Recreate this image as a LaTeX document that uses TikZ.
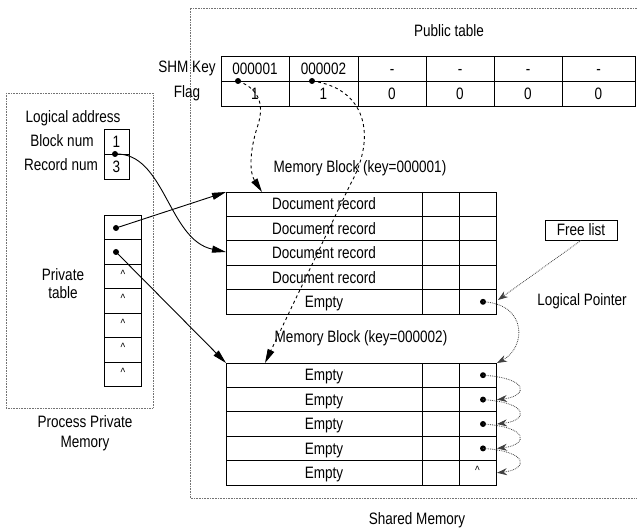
\documentclass[tikz,border=0pt]{standalone}
\usepackage{fontspec}
\setmainfont{Liberation Sans}[FakeStretch=0.82]
\usetikzlibrary{arrows.meta}
\begin{document}
\begin{tikzpicture}[x=1pt,y=-1pt,
  lbl/.style={font=\fontsize{16.5}{18}\selectfont, inner sep=0pt, text height=11.8pt, text depth=0pt},
  sm/.style={font=\fontsize{12}{14}\selectfont, inner sep=0pt},
  box/.style={draw, line width=0.9pt, inner sep=0pt, anchor=north west},
  pt/.style={circle, fill, inner sep=0pt, minimum size=6pt},
  border/.style={densely dotted, line width=0.6pt, black!55},
  sol/.style={line width=0.9pt, -{Triangle[length=14pt,width=7pt]}},
  dsh/.style={dashed, line width=0.9pt, -{Triangle[length=14pt,width=7pt]}},
  dta/.style={densely dotted, line width=0.8pt, black!75, -{Stealth[length=10pt,width=7pt]}},
  cell/.style={line width=0.9pt},
]
\useasboundingbox (0,0) rectangle (637,529);

% regions
\draw[border] (640,8) -- (190,8) -- (190,498) -- (640,498);
\draw[border] (6,93) rectangle (153,408);
\node[lbl] (shm) at (417,518.5) {Shared Memory};
\node[lbl] (ppm1) at (85,422) {Process Private};
\node[lbl] (ppm2) at (85,442) {Memory};

% public table
\node[lbl] (pubt) at (449,31) {Public table};
\node[lbl] (shmk) at (187,67) {SHM Key};
\node[lbl] (flag) at (187,92) {Flag};
\foreach \xa/\xb/\ta/\tb [count=\i] in {221/289/000001/1, 289/358/000002/1, 358/426/-/0, 426/494/-/0, 494/562/-/0, 562/635/-/0} {
  \draw[cell] (\xa,56) rectangle (\xb,81);
  \draw[cell] (\xa,81) rectangle (\xb,106);
  \node[lbl] (k\i) at ({(\xa+\xb)/2},68.5) {\ta};
  \node[lbl] (f\i) at ({(\xa+\xb)/2},93.5) {\tb};
}
\node[pt] (kd1) at (238,81) {};
\node[pt] (kd2) at (312,81) {};

% memory block 1
\node[lbl] (mb1) at (360,167) {Memory Block (key=000001)};
\node[box, minimum width=270pt, minimum height=122pt] (blkA) at (226,192) {};
\foreach \y [count=\i] in {192,216.4,240.8,265.2,289.6} {
  \draw[cell] (226,\y) -- (496,\y);
}
\draw[cell] (422,192) -- (422,314);
\draw[cell] (459,192) -- (459,314);
\foreach \y [count=\i] in {204,228.4,252.8,277.2} {
  \node[lbl] (dr\i) at (324,\y) {Document record};
}
\node[lbl] (em0) at (324,301.6) {Empty};
\node[pt] (e1) at (483,301.8) {};

% memory block 2
\node[lbl] (mb2) at (361,337) {Memory Block (key=000002)};
\node[box, minimum width=270pt, minimum height=122pt] (blkB) at (226,363) {};
\foreach \y in {363,387.4,411.8,436.2,460.6} {
  \draw[cell] (226,\y) -- (496,\y);
}
\draw[cell] (422,363) -- (422,485);
\draw[cell] (459,363) -- (459,485);
\foreach \y [count=\i] in {375,399.4,423.8,448.2,472.6} {
  \node[lbl] (eb\i) at (324,\y) {Empty};
}
\foreach \y [count=\i] in {375.2,399.6,424,448.4} {
  \node[pt] (q\i) at (483,\y) {};
}
\node[sm] (qn) at (477.5,470) {\textasciicircum};

% free list
\node[draw, line width=0.9pt, lbl, minimum width=72pt, minimum height=20pt, inner sep=0pt] (fl) at (581,230) {Free list};
\node[lbl] (lp) at (582,300) {Logical Pointer};

% logical address
\node[lbl] (la) at (73,117) {Logical address};
\node[lbl] (bn) at (62,141) {Block num};
\node[lbl] (rn) at (61,165) {Record num};
\draw[cell] (104,129) rectangle (129,154);
\draw[cell] (104,154) rectangle (129,179);
\node[lbl] (v1) at (116.5,141.5) {1};
\node[lbl] (v3) at (116.5,166.5) {3};
\node[pt] (ld) at (115,154) {};

% private table
\node[lbl] (pt1) at (63,275) {Private};
\node[lbl] (pt2) at (63,293) {table};
\foreach \y in {215,239.5,264,288.5,313,337.5,362} {
  \draw[cell] (104,\y) rectangle (141,\y+24.5);
}
\foreach \y in {274,298.5,323,347.5,372} {
  \node[sm] at (123,\y) {\textasciicircum};
}
\node[pt] (pd1) at (116,228) {};
\node[pt] (pd2) at (116,252) {};

% coordinates
\coordinate (a1) at (262,192);
\coordinate (a2) at (265,363);
\coordinate (r3) at (226,252);
\coordinate (fpt) at (498,300);

% connectors
\draw[dsh] (kd1.center) .. controls (262,90) and (264,108) .. (257,128) .. controls (250,150) and (249,172) .. (a1);
\draw[dsh] (kd2.center) .. controls (365,88) and (378,135) .. (350,185) -- (a2);
\draw[sol] (ld.center) .. controls (165,152) and (168,240) .. (r3);
\draw[sol] (pd1.center) -- (blkA.north west);
\draw[sol] (pd2.center) -- (blkB.north west);
\draw[dta] (fl.south) -- (fpt);
\draw[dta] (e1.center) .. controls (528,304) and (526,348) .. (blkB.north east);
\foreach \y [count=\i] in {375.2,399.6,424,448.4} {
  \draw[dta] (q\i.center) .. controls (530,\y+3) and (528,\y+21) .. (497,\y+24.4);
}
\end{tikzpicture}
\end{document}
